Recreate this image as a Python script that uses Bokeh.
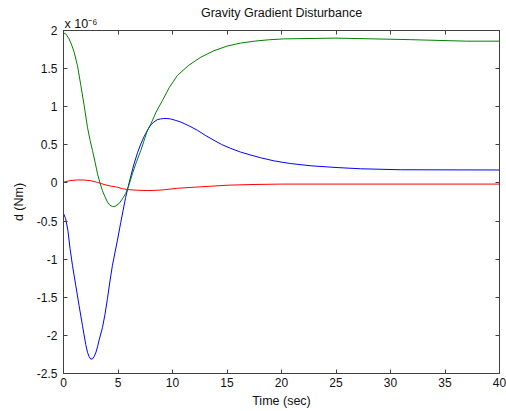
from bokeh.plotting import figure
from bokeh.models import Range1d, FixedTicker, LinearAxis, Title, PrintfTickFormatter
from bokeh.embed import file_html
from bokeh.resources import INLINE

# Time (sec) and disturbance values in units of 1e-6 Nm
t_blue = [0, 0.2, 0.4, 0.6, 0.82, 1.13, 1.43, 1.74, 2.04, 2.2, 2.35, 2.5, 2.65, 2.8,
          2.96, 3.12, 3.27, 3.57, 3.8, 4.03, 4.25, 4.49, 4.95, 5.25, 5.7, 6.0, 6.47,
          6.8, 7.09, 7.4, 7.7, 8.0, 8.3, 8.6, 8.9, 9.2, 9.5, 9.83, 10.3, 10.75, 11.5,
          12.3, 13.0, 13.8, 14.5, 15.3, 16.25, 17.2, 18.1, 19.3, 20.8, 22.7, 25.1,
          27.25, 30.9, 40]
d_blue = [-0.40, -0.47, -0.62, -0.86, -1.08, -1.35, -1.61, -1.87, -2.12, -2.22, -2.28,
          -2.31, -2.31, -2.28, -2.23, -2.15, -2.06, -1.90, -1.73, -1.52, -1.30, -1.08,
          -0.75, -0.52, -0.19, -0.01, 0.25, 0.40, 0.51, 0.61, 0.69, 0.76, 0.80, 0.83,
          0.84, 0.845, 0.845, 0.84, 0.82, 0.80, 0.75, 0.69, 0.625, 0.56, 0.505, 0.455,
          0.405, 0.365, 0.33, 0.29, 0.255, 0.225, 0.202, 0.186, 0.173, 0.17]

t_green = [0, 0.25, 0.51, 0.75, 0.97, 1.28, 1.59, 1.89, 2.2, 2.44, 2.66, 2.9, 3.12,
           3.35, 3.57, 3.8, 4.03, 4.25, 4.49, 4.75, 5.1, 5.4, 5.7, 6.0, 6.32, 6.7, 7.09,
           7.4, 7.7, 8.0, 8.5, 9.07, 9.7, 10.45, 11.5, 12.6, 13.8, 15.0, 16.25, 17.5,
           18.8, 20.2, 25, 31.8, 37, 40]
d_green = [1.97, 1.95, 1.89, 1.81, 1.72, 1.54, 1.28, 1.02, 0.73, 0.56, 0.425, 0.27,
           0.12, 0.0, -0.10, -0.18, -0.25, -0.29, -0.31, -0.305, -0.27, -0.21, -0.14,
           -0.03, 0.12, 0.28, 0.425, 0.56, 0.69, 0.77, 0.93, 1.08, 1.25, 1.41, 1.545,
           1.65, 1.735, 1.795, 1.835, 1.86, 1.878, 1.89, 1.90, 1.88, 1.86, 1.86]

t_red = [0, 0.6, 1.28, 1.9, 2.5, 3.1, 3.72, 4.3, 4.95, 5.4, 5.87, 6.8, 7.7, 8.5, 9.2,
         10.45, 12, 13.5, 15, 17.2, 20, 40]
d_red = [0.01, 0.03, 0.04, 0.038, 0.03, 0.008, -0.02, -0.04, -0.056, -0.075, -0.087,
         -0.096, -0.10, -0.097, -0.09, -0.07, -0.056, -0.043, -0.03, -0.021, -0.015,
         -0.015]

x_ticks = [0, 5, 10, 15, 20, 25, 30, 35, 40]
y_ticks = [-2.5, -2, -1.5, -1, -0.5, 0, 0.5, 1, 1.5, 2]

FONT = "Liberation Sans"
AX = "#404040"
TXT = "#111111"

p = figure(width=506, height=411, output_backend="svg", toolbar_location=None,
           x_range=Range1d(0, 40), y_range=Range1d(-2.5, 2),
           min_border_left=63, min_border_right=7, min_border_top=30, min_border_bottom=38,
           title="Gravity Gradient Disturbance")
p.title.align = "center"
p.title.text_font = FONT
p.title.text_font_size = "12.5px"
p.title.text_font_style = "normal"
p.title.text_color = TXT
p.title.standoff = -10
p.grid.visible = False
p.outline_line_color = AX
p.background_fill_color = "white"
p.border_fill_color = "white"

p.line(t_blue, d_blue, line_color="#0000ff", line_width=1)
p.line(t_green, d_green, line_color="#008000", line_width=1)
p.line(t_red, d_red, line_color="#ff0000", line_width=1)

def style(ax, ticks, labels=True):
    ax.ticker = FixedTicker(ticks=ticks)
    ax.major_tick_in = 4
    ax.major_tick_out = 0
    ax.minor_tick_line_color = None
    ax.axis_line_color = AX
    ax.major_tick_line_color = AX
    ax.major_label_text_font = FONT
    ax.formatter = PrintfTickFormatter(format="%g")
    if labels:
        ax.major_label_text_font_size = "12px"
        ax.major_label_text_color = TXT
    else:
        ax.major_label_text_font_size = "1px"
        ax.major_label_text_color = None
        ax.major_label_standoff = 0

xa = p.xaxis[0]
style(xa, x_ticks)
xa.major_label_standoff = 4
xa.axis_label = "Time (sec)"
xa.axis_label_text_font = FONT
xa.axis_label_text_font_size = "12.5px"
xa.axis_label_text_font_style = "normal"
xa.axis_label_text_color = TXT
xa.axis_label_standoff = 4

ya = p.yaxis[0]
style(ya, y_ticks)
ya.major_label_standoff = 6
ya.axis_label = "d (Nm)"
ya.axis_label_text_font = FONT
ya.axis_label_text_font_size = "12.5px"
ya.axis_label_text_font_style = "normal"
ya.axis_label_text_color = TXT
ya.axis_label_standoff = 8

ra = LinearAxis()
style(ra, y_ticks, labels=False)
p.add_layout(ra, "right")
ta = LinearAxis()
style(ta, x_ticks, labels=False)
p.add_layout(ta, "above")

scale_note = Title(text="x 10\u207b\u2076", align="left", text_font=FONT,
                   text_font_size="12.5px", text_font_style="normal", text_color=TXT,
                   standoff=0, offset=1)
p.add_layout(scale_note, "above")

open("out.html", "w").write(file_html(p, INLINE))
